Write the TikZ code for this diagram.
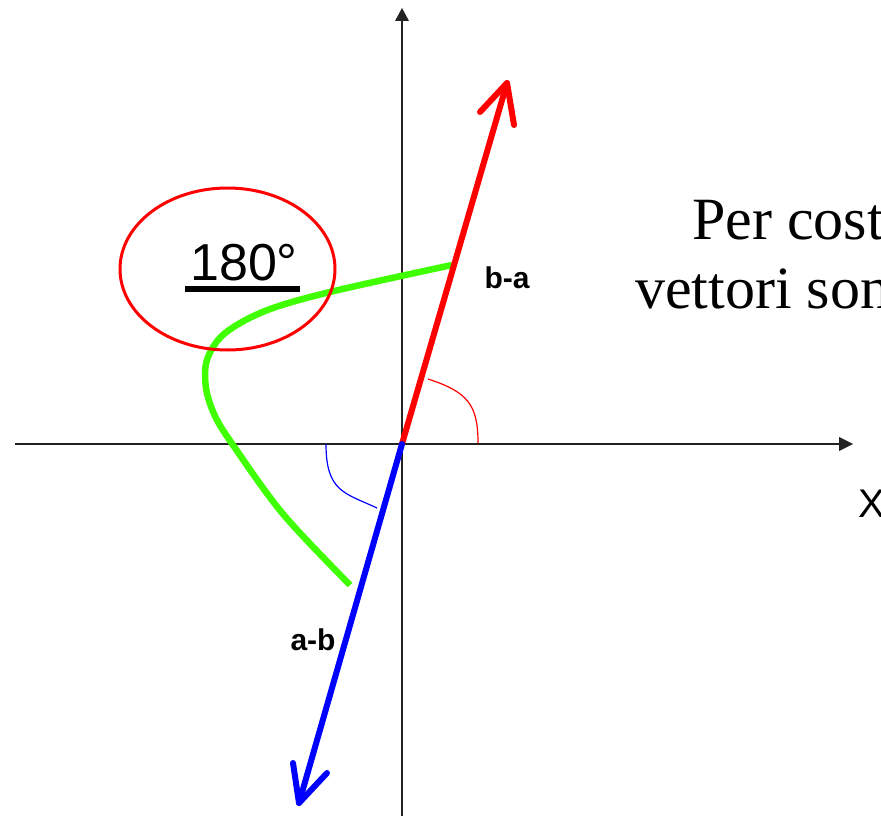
\documentclass[tikz,border=0pt]{standalone}
\usepackage{fontspec}
\setmainfont{Liberation Serif}
\newfontfamily\arialf{Liberation Sans}
\definecolor{lime}{RGB}{64,255,0}
\definecolor{axisgray}{RGB}{35,35,35}
\tikzset{
  axisline/.style={draw=axisgray, line width=2.5pt},
  vecred/.style={draw=red, line width=6pt, line cap=round, line join=round},
  vecblue/.style={draw=blue, line width=6pt, line cap=round, line join=round},
  anglered/.style={draw=red, line width=1.2pt},
  angleblue/.style={draw=blue, line width=1.2pt},
  vlabel/.style={font=\arialf\bfseries\fontsize{30}{32}\selectfont, anchor=base, inner sep=0pt},
  bigserif/.style={anchor=base west, inner sep=0pt, font=\fontsize{60}{68}\selectfont},
}
\begin{document}
\begin{tikzpicture}[x=1pt, y=-1pt]
\clip (0,0) rectangle (881,816);
\fill[white] (0,0) rectangle (881,816);
% axes
\coordinate (O) at (402,444);
\coordinate (xs) at (15,444);
\coordinate (xe) at (853,444);
\coordinate (ys) at (402,816);
\coordinate (ye) at (402,8);
\draw[axisline] (xs) -- (840,444);
\fill[axisgray] (xe) -- (839,437) -- (839,451) -- cycle;
\draw[axisline] (ys) -- (402,20);
\fill[axisgray] (ye) -- (395,21) -- (409,21) -- cycle;
% angle arcs
\draw[anglered] (428,379) .. controls (468,392) and (478,405) .. (478,443);
\draw[angleblue] (326,444) .. controls (326,492) and (345,493) .. (377,508);
% green curve
\draw[draw=lime, line width=6.5pt] plot[smooth, tension=0.55] coordinates {(452,265) (330,292) (265,311) (224,334) (207,360) (206,388) (215,416) (233,445) (283,514) (350,585)};
% vectors
\coordinate (R) at (507,83);
\coordinate (B) at (299,803);
\draw[vecred] (O) -- (R);
\draw[vecred] (480,112) -- (R) -- (514,125);
\draw[vecblue] (O) -- (B);
\draw[vecblue] (293,763) -- (B) -- (327,773);
% ellipse
\draw[red, line width=3pt] (227.5,269) ellipse [x radius=107.5, y radius=81];
% 180 degree label
\node[anchor=base west, inner sep=0pt, font=\arialf\fontsize{52}{54}\selectfont] (deg) at (190,280) {180°};
\fill[black] (185,286) rectangle (300,292);
% vector labels
\node[vlabel] (ba) at (507,288) {b-a};
\node[vlabel] (ab) at (313,650) {a-b};
% X label
\node[anchor=base west, inner sep=0pt, font=\arialf\fontsize{40}{42}\selectfont] (xl) at (858,517) {X};
% text
\node[bigserif] (t1) at (692,239) {Per cost};
\node[bigserif] (t2) at (635,308) {vettori son};
\end{tikzpicture}
\end{document}
